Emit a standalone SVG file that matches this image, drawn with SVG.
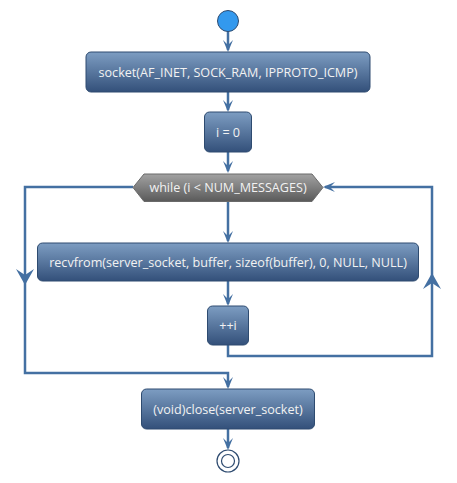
<svg xmlns="http://www.w3.org/2000/svg" width="457" height="483" viewBox="0 0 457 483">
<defs>
<linearGradient id="gBox" x1="0" y1="0" x2="0" y2="1">
<stop offset="0" stop-color="#7D9DC2"/>
<stop offset="1" stop-color="#33507A"/>
</linearGradient>
<linearGradient id="gHex" x1="0" y1="0" x2="0" y2="1">
<stop offset="0" stop-color="#A2A2A2"/>
<stop offset="1" stop-color="#5A5A5A"/>
</linearGradient>
<polygon id="ah" points="0,0 -5,-12 0,-7 5,-12"/>
<polygon id="ahBig" points="0,0 -9,-16 0,-10 9,-16"/>
</defs>
<style>
.box{fill:url(#gBox);stroke:#2E4B70;stroke-width:1}
.hex{fill:url(#gHex);stroke:#6A6A6A;stroke-width:1}
.lbl{font-family:"Open Sans","Noto Sans",sans-serif;font-size:12.6px;fill:#F2F2F2;text-anchor:middle}
.ln{fill:none;stroke:#4470A2;stroke-width:2.5}
.hd{fill:#4470A2;stroke:none}
</style>
<g id="connectors">
<path class="ln" d="M228,31 V50"/>
<use href="#ah" class="hd" transform="translate(228,52)"/>
<path class="ln" d="M228,92 V110"/>
<use href="#ah" class="hd" transform="translate(228,112)"/>
<path class="ln" d="M228,152 V171"/>
<use href="#ah" class="hd" transform="translate(228,173)"/>
<path class="ln" d="M228,201 V241"/>
<use href="#ah" class="hd" transform="translate(228,243)"/>
<path class="ln" d="M228,281 V304"/>
<use href="#ah" class="hd" transform="translate(228,306)"/>
<path class="ln" d="M228,345 V356 H432 V187 H325"/>
<use href="#ahBig" class="hd" transform="translate(432,273) rotate(180)"/>
<use href="#ah" class="hd" transform="translate(323,187) rotate(90)"/>
<path class="ln" d="M133,187 H25 V373 H228 V387"/>
<use href="#ahBig" class="hd" transform="translate(25,285)"/>
<use href="#ah" class="hd" transform="translate(228,389)"/>
<path class="ln" d="M228,429 V448"/>
<use href="#ah" class="hd" transform="translate(228,450)"/>
</g>
<g id="start"><circle cx="228" cy="21" r="10.5" fill="#3399EE" stroke="#2E4B70" stroke-width="1"/></g>
<g id="socket"><rect class="box" x="86" y="52" width="284" height="40" rx="5"/><text class="lbl" x="228" y="77">socket(AF_INET, SOCK_RAM, IPPROTO_ICMP)</text></g>
<g id="init"><rect class="box" x="204.5" y="112" width="47" height="40" rx="5"/><text class="lbl" x="228" y="137">i = 0</text></g>
<g id="while"><polygon class="hex" points="133,187.5 144,174 312,174 323,187.5 312,201.5 144,201.5"/><text class="lbl" x="228" y="192">while (i &lt; NUM_MESSAGES)</text></g>
<g id="recvfrom"><rect class="box" x="37.5" y="243" width="381" height="38" rx="5"/><text class="lbl" x="228" y="266.5">recvfrom(server_socket, buffer, sizeof(buffer), 0, NULL, NULL)</text></g>
<g id="incr"><rect class="box" x="207.5" y="306" width="41" height="39" rx="5"/><text class="lbl" x="228" y="330">++i</text></g>
<g id="close"><rect class="box" x="141.5" y="389" width="173" height="40" rx="5"/><text class="lbl" x="228" y="414">(void)close(server_socket)</text></g>
<g id="end"><circle cx="228" cy="461" r="11" fill="#FFFFFF" stroke="#2E4B70" stroke-width="1.2"/><circle cx="228" cy="461" r="6.5" fill="#FFFFFF" stroke="#2E4B70" stroke-width="1.2"/></g>
</svg>
